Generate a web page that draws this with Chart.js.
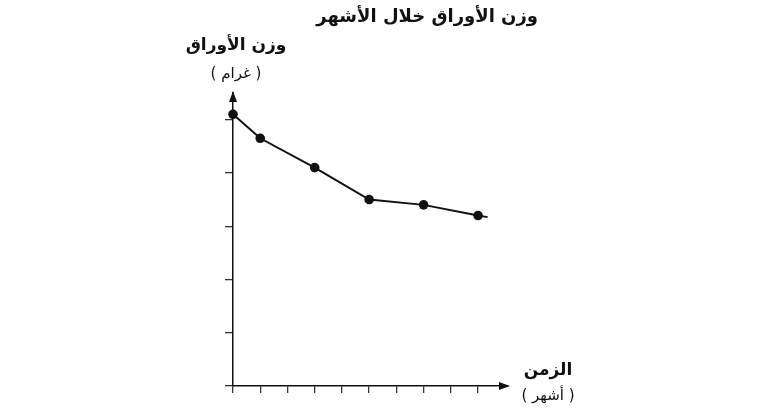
<!DOCTYPE html>
<html lang="ar">
<head>
<meta charset="utf-8">
<script src="https://cdn.jsdelivr.net/npm/chart.js@4"></script>
<style>
  html, body { margin: 0; padding: 0; background: #fff; }
  #wrap { position: relative; width: 774px; height: 415px; overflow: hidden; }
  canvas { position: absolute; left: 0; top: 0; }
  .lbl { position: absolute; font-family: "DejaVu Sans", sans-serif; color: #111; direction: rtl; white-space: nowrap; text-align: center; }
  .b { font-weight: bold; }
</style>
</head>
<body>
<div id="wrap">
  <canvas id="c" width="774" height="415"></canvas>
  <div class="lbl b" style="left:318px; top:5px; width:220px; font-size:18px;">وزن الأوراق خلال الأشهر</div>
  <div class="lbl b" style="left:180px; top:34px; width:112px; font-size:17px;">وزن الأوراق</div>
  <div class="lbl" style="left:196px; top:64px; width:80px; font-size:15px;">( غرام )</div>
  <div class="lbl b" style="left:518px; top:359px; width:60px; font-size:17px;">الزمن</div>
  <div class="lbl" style="left:514px; top:386px; width:68px; font-size:15px;">( أشهر )</div>
</div>
<script>
// months since start and leaf weight (no units shown on the axis)
const months = [0, 1, 3, 5, 7, 9];
const weights = [5.1, 4.65, 4.1, 3.5, 3.4, 3.2];
// the line runs a little past the last dot
const tailMonths = [9, 9.35];
const tailWeights = [3.2, 3.17];
const xTicks = [0, 1, 2, 3, 4, 5, 6, 7, 8, 9];
const yTicks = [0, 1, 2, 3, 4, 5];

const ink = '#111';

const arrows = {
  id: 'arrows',
  afterDraw(chart) {
    const { ctx, chartArea: a } = chart;
    ctx.save();
    ctx.fillStyle = ink;
    ctx.beginPath();
    ctx.moveTo(a.left, a.top - 2);
    ctx.lineTo(a.left - 4, a.top + 9);
    ctx.lineTo(a.left + 4, a.top + 9);
    ctx.closePath();
    ctx.fill();
    ctx.beginPath();
    ctx.moveTo(a.right + 2, a.bottom);
    ctx.lineTo(a.right - 9, a.bottom - 4);
    ctx.lineTo(a.right - 9, a.bottom + 4);
    ctx.closePath();
    ctx.fill();
    ctx.restore();
  }
};

new Chart(document.getElementById('c'), {
  type: 'scatter',
  data: {
    datasets: [
      { data: months.map((m, i) => ({ x: m, y: weights[i] })), showLine: true, clip: false, borderColor: ink, borderWidth: 2, pointRadius: 4.8, pointBackgroundColor: ink, pointBorderWidth: 0 },
      { data: tailMonths.map((m, i) => ({ x: m, y: tailWeights[i] })), showLine: true, clip: false, borderColor: ink, borderWidth: 2, pointRadius: 0 },
    ],
  },
  options: {
    responsive: false,
    animation: false,
    layout: { padding: { left: 225, right: 266, top: 93, bottom: 22 } },
    plugins: { legend: { display: false }, title: { display: false }, tooltip: { enabled: false } },
    scales: {
      x: {
        type: 'linear', min: 0, max: 10.1,
        afterBuildTicks: s => { s.ticks = xTicks.map(v => ({ value: v })); },
        ticks: { display: false },
        grid: { drawOnChartArea: false, drawTicks: true, tickLength: 7, color: '#333', lineWidth: 1.3 },
        border: { display: true, color: ink, width: 1.5 },
      },
      y: {
        type: 'linear', min: 0, max: 5.5,
        afterBuildTicks: s => { s.ticks = yTicks.map(v => ({ value: v })); },
        ticks: { display: false },
        grid: { drawOnChartArea: false, drawTicks: true, tickLength: 8, color: '#333', lineWidth: 1.3 },
        border: { display: true, color: ink, width: 1.5 },
      },
    },
  },
  plugins: [arrows],
});
</script>
</body>
</html>
